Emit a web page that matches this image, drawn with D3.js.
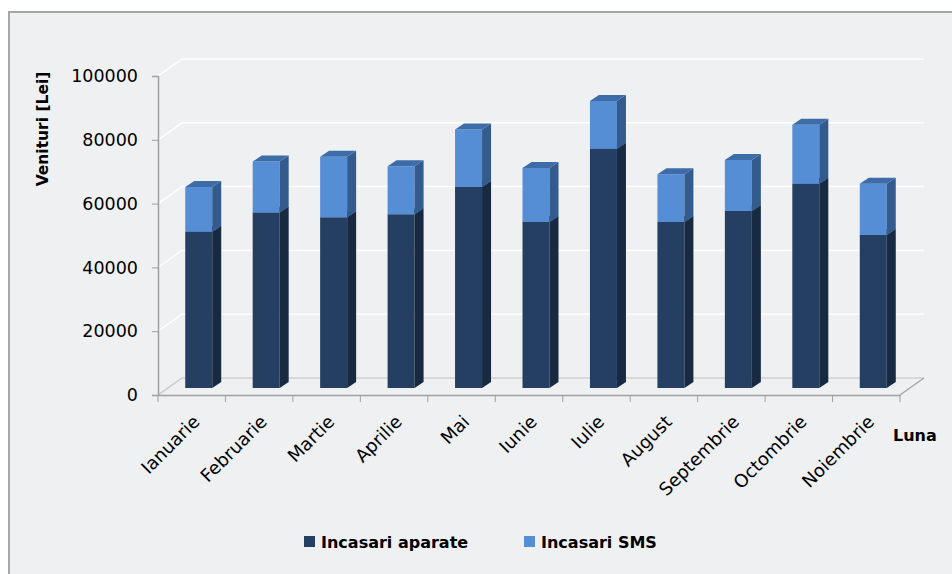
<!DOCTYPE html>
<html>
<head>
<meta charset="utf-8">
<script src="https://cdn.jsdelivr.net/npm/d3@7"></script>
<style>
  body { margin: 0; background: #fff; }
  text { font-family: "DejaVu Sans", sans-serif; fill: #000; }
</style>
</head>
<body>
<div id="chart"></div>
<script>
var width = 952;
var height = 574;

var months = ["Ianuarie", "Februarie", "Martie", "Aprilie", "Mai", "Iunie", "Iulie", "August", "Septembrie", "Octombrie", "Noiembrie"];
var aparate = [49000, 55000, 53500, 54500, 63000, 52000, 75000, 52000, 55500, 64000, 48000];
var sms = [14000, 16000, 19000, 15000, 18000, 17000, 15000, 15000, 16000, 18500, 16000];
var seriesNames = ["Incasari aparate", "Incasari SMS"];
var yTicks = [0, 20000, 40000, 60000, 80000, 100000];

// colours: front, side, top
var colors = [
  { front: "#253f62", side: "#172a41", top: "#2d4c75" },
  { front: "#558ed5", side: "#335b8e", top: "#3d6ca8" }
];

var svg = d3.select('#chart').append('svg')
  .attr('width', width).attr('height', height);

// chart area
svg.append('rect')
  .attr('x', 9).attr('y', 12)
  .attr('width', width).attr('height', height)
  .attr('fill', '#eff0f2')
  .attr('stroke', '#a6a6a6')
  .attr('stroke-width', 2);

var x = d3.scaleBand().domain(months).range([158, 900]).padding(0);
var y = d3.scaleLinear().domain([0, 100000]).range([395, 76]);

// depth of the walls
var wallDx = 24, wallDy = -17;
// bars sit a little inside the floor
var barDx = 7, barDy = -7, depDx = 9, depDy = -6;
var barW = 27;

var table = months.map(function(m, i) {
  return { month: m, a: aparate[i], s: sms[i] };
});
var stack = d3.stack().keys(["a", "s"])(table);

// left wall diagonals + back wall gridlines
var grid = svg.append('g');
grid.selectAll('line.diag')
  .data(yTicks)
  .enter()
  .append('line')
  .attr('x1', 158).attr('y1', function(d) { return y(d); })
  .attr('x2', 158 + wallDx).attr('y2', function(d) { return y(d) + wallDy; })
  .attr('stroke', function(d) { return d === 0 ? '#c8c8c8' : '#ffffff'; })
  .attr('stroke-width', 1.5);
grid.selectAll('line.back')
  .data(yTicks)
  .enter()
  .append('line')
  .attr('x1', 158 + wallDx).attr('y1', function(d) { return y(d) + wallDy; })
  .attr('x2', 900 + wallDx).attr('y2', function(d) { return y(d) + wallDy; })
  .attr('stroke', function(d) { return d === 0 ? '#d0d0d0' : '#ffffff'; })
  .attr('stroke-width', 1.5);

// floor edges
svg.append('line')
  .attr('x1', 900).attr('y1', 395)
  .attr('x2', 900 + wallDx).attr('y2', 395 + wallDy)
  .attr('stroke', '#a6a6a6').attr('stroke-width', 1.5);

// bars
function poly(pts) {
  return 'M' + pts.map(function(p) { return p[0] + ',' + p[1]; }).join('L') + 'Z';
}

stack.forEach(function(layer, si) {
  var g = svg.append('g');
  layer.forEach(function(d, i) {
    var x0 = x(months[i]) + x.bandwidth() / 2 - barW / 2 + barDx;
    var x1 = x0 + barW;
    var yb = y(d[0]) + barDy;
    var yt = y(d[1]) + barDy;
    // front
    g.append('path')
      .attr('d', poly([[x0, yt], [x1, yt], [x1, yb], [x0, yb]]))
      .attr('fill', colors[si].front);
    // side
    g.append('path')
      .attr('d', poly([[x1, yt], [x1 + depDx, yt + depDy], [x1 + depDx, yb + depDy], [x1, yb]]))
      .attr('fill', colors[si].side);
    // top
    g.append('path')
      .attr('d', poly([[x0, yt], [x0 + depDx, yt + depDy], [x1 + depDx, yt + depDy], [x1, yt]]))
      .attr('fill', colors[si].top);
  });
});

// y axis
var yAxis = svg.append('g')
  .attr('transform', 'translate(158,0)')
  .call(d3.axisLeft(y).tickValues(yTicks).tickSize(6).tickPadding(14).tickFormat(d3.format('d')));
yAxis.select('.domain').attr('stroke', '#a0a0a0').attr('stroke-width', 1.5);
yAxis.selectAll('.tick line').attr('stroke', '#a0a0a0');
yAxis.selectAll('.tick text')
  .style('font-family', '"DejaVu Sans", sans-serif')
  .style('font-size', '17.5px')
  .attr('fill', '#000');

// x axis
var xAxis = svg.append('g')
  .attr('transform', 'translate(0,395)')
  .call(d3.axisBottom(x).tickSize(0).tickFormat(''));
xAxis.select('.domain').attr('stroke', '#a0a0a0').attr('stroke-width', 1.5);
xAxis.selectAll('.tick').remove();

var bounds = months.map(function(m) { return x(m); }).concat([900]);
svg.selectAll('line.xtick')
  .data(bounds)
  .enter()
  .append('line')
  .attr('x1', function(d) { return d; }).attr('y1', 395)
  .attr('x2', function(d) { return d; }).attr('y2', 402)
  .attr('stroke', '#a0a0a0');

svg.selectAll('text.month')
  .data(months)
  .enter()
  .append('text')
  .attr('text-anchor', 'end')
  .attr('transform', function(d) {
    return 'translate(' + (x(d) + x.bandwidth() / 2 + 9) + ',423) rotate(-45)';
  })
  .style('font-size', '18px')
  .text(function(d) { return d; });

// axis titles
svg.append('text')
  .attr('transform', 'translate(48,129) rotate(-90)')
  .attr('text-anchor', 'middle')
  .style('font-size', '15.5px')
  .style('font-weight', 'bold')
  .text('Venituri [Lei]');

svg.append('text')
  .attr('x', 893).attr('y', 441)
  .style('font-size', '16px')
  .style('font-weight', 'bold')
  .text('Luna');

// legend
var legendX = [304, 524];
var legend = svg.selectAll('g.legend')
  .data(seriesNames)
  .enter()
  .append('g')
  .attr('transform', function(d, i) { return 'translate(' + legendX[i] + ',536)'; });
legend.append('rect')
  .attr('width', 11).attr('height', 11)
  .attr('fill', function(d, i) { return colors[i].front; });
legend.append('text')
  .attr('x', 17).attr('y', 11.5)
  .style('font-size', '16px')
  .style('font-weight', 'bold')
  .text(function(d) { return d; });
</script>
</body>
</html>
